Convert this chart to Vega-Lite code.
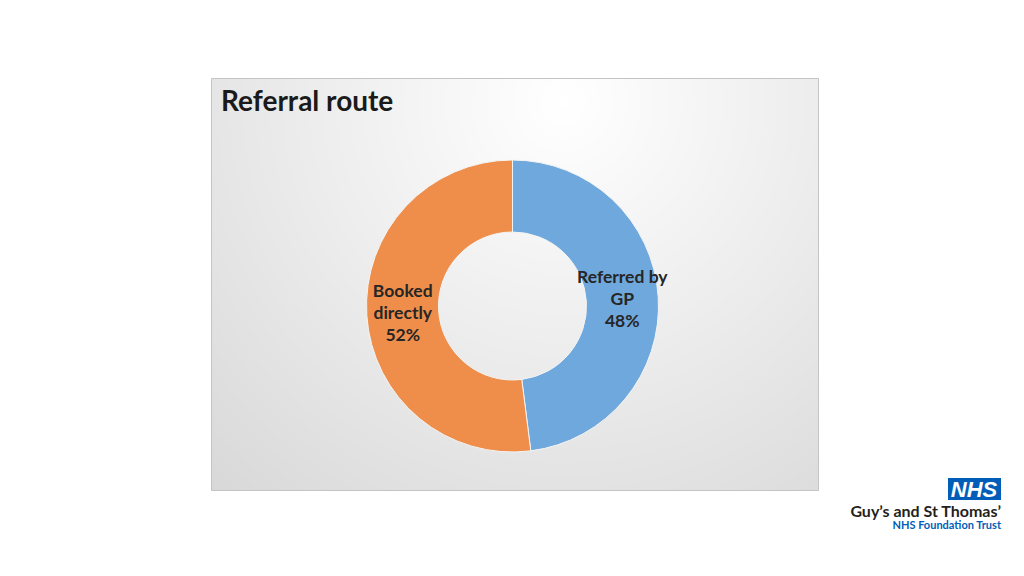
{
  "$schema": "https://vega.github.io/schema/vega-lite/v6.json",
  "width": 607,
  "height": 412,
  "autosize": "none",
  "padding": {"left": 211, "top": 78, "right": 206, "bottom": 86},
  "background": "#ffffff",
  "view": {
    "stroke": "#c4c4c4",
    "strokeWidth": 1,
    "fill": {
      "gradient": "radial",
      "x1": 0.58, "y1": 0.2, "r1": 0,
      "x2": 0.58, "y2": 0.2, "r2": 0.95,
      "stops": [
        {"offset": 0, "color": "#ffffff"},
        {"offset": 0.45, "color": "#ececec"},
        {"offset": 1, "color": "#d4d4d4"}
      ]
    }
  },
  "layer": [
    {
      "data": {"values": [
        {"route": "Referred by GP", "pct": 48, "label": "Referred by\nGP\n48%"},
        {"route": "Booked directly", "pct": 52, "label": "Booked\ndirectly\n52%"}
      ]},
      "layer": [
        {
          "mark": {"type": "arc", "outerRadius": 146, "innerRadius": 74, "stroke": "#f4f4f4", "strokeWidth": 1, "xOffset": -2, "yOffset": 22},
          "encoding": {
            "theta": {"field": "pct", "type": "quantitative", "stack": true},
            "order": {"field": "pct", "type": "quantitative", "sort": "ascending"},
            "color": {
              "field": "route", "type": "nominal", "legend": null,
              "scale": {"domain": ["Referred by GP", "Booked directly"], "range": ["#6FA8DC", "#EE8E4A"]}
            }
          }
        },
        {
          "mark": {"type": "text", "radius": 110, "xOffset": -2, "yOffset": 1, "font": "Lato", "fontSize": 17.5, "fontWeight": "bold", "color": "#262626", "lineBreak": "\n", "lineHeight": 22, "align": "center", "baseline": "middle"},
          "encoding": {
            "theta": {"field": "pct", "type": "quantitative", "stack": true},
            "order": {"field": "pct", "type": "quantitative", "sort": "ascending"},
            "text": {"field": "label", "type": "nominal"}
          }
        }
      ]
    },
    {
      "data": {"values": [{}]},
      "layer": [
        {
          "mark": {"type": "text", "text": "Referral route", "font": "Lato", "fontSize": 28, "fontWeight": "bold", "color": "#1a1a1a", "align": "left", "baseline": "alphabetic", "dx": 10, "dy": 33},
          "encoding": {"x": {"value": 0}, "y": {"value": 0}}
        },
        {
          "mark": {"type": "point", "shape": "M-1,-0.415H1V0.415H-1Z", "size": 2809, "filled": true, "opacity": 1, "color": "#005EB8", "xOffset": 156.5, "yOffset": -1},
          "encoding": {"x": {"value": "width"}, "y": {"value": "height"}}
        },
        {
          "mark": {"type": "text", "text": "NHS", "font": "Liberation Sans", "fontSize": 22, "fontWeight": "bold", "fontStyle": "italic", "color": "#ffffff", "align": "center", "baseline": "middle", "dx": 156, "dy": 0},
          "encoding": {"x": {"value": "width"}, "y": {"value": "height"}}
        },
        {
          "mark": {"type": "text", "text": "Guy’s and St Thomas’", "font": "Lato", "fontSize": 16, "fontWeight": "bold", "color": "#231f20", "align": "right", "baseline": "alphabetic", "dx": 183, "dy": 27},
          "encoding": {"x": {"value": "width"}, "y": {"value": "height"}}
        },
        {
          "mark": {"type": "text", "text": "NHS Foundation Trust", "font": "Lato", "fontSize": 11, "fontWeight": "bold", "color": "#005EB8", "align": "right", "baseline": "alphabetic", "dx": 183, "dy": 39},
          "encoding": {"x": {"value": "width"}, "y": {"value": "height"}}
        }
      ]
    }
  ]
}
